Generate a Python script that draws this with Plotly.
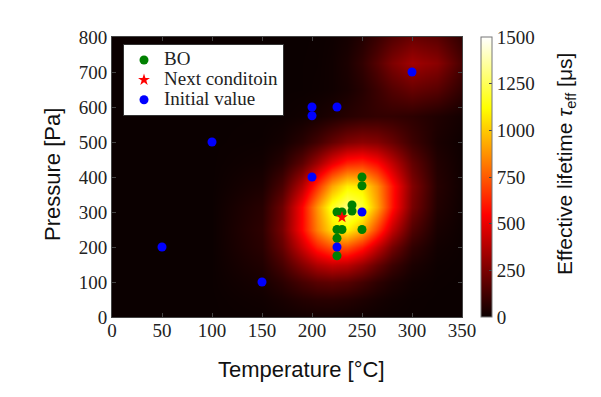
import plotly.graph_objects as go

# ---- surface (predicted lifetime), coarse grid ----
grid_temp = [0, 50, 100, 150, 170, 190, 205, 220, 235, 250, 265, 280, 300, 325, 350]
grid_pres = [0, 50, 100, 150, 200, 250, 313, 375, 440, 500, 575, 650, 727, 800]
lifetime = [
    [0, 0, 0, 4, 10, 16, 19, 19, 15, 10, 6, 3, 1, 0, 0],
    [0, 0, 0, 12, 29, 52, 64, 66, 57, 41, 24, 12, 3, 0, 0],
    [0, 0, 1, 27, 70, 132, 172, 186, 168, 126, 78, 41, 13, 2, 0],
    [0, 0, 1, 47, 132, 267, 365, 414, 392, 309, 202, 110, 37, 6, 1],
    [0, 0, 1, 67, 199, 430, 616, 736, 731, 605, 417, 239, 85, 15, 2],
    [0, 0, 1, 76, 240, 553, 833, 1044, 1089, 947, 685, 411, 157, 30, 3],
    [0, 0, 1, 64, 220, 547, 879, 1171, 1300, 1200, 922, 590, 244, 51, 6],
    [0, 0, 0, 37, 141, 381, 649, 920, 1085, 1067, 871, 593, 267, 62, 9],
    [0, 0, 0, 15, 62, 181, 328, 494, 620, 646, 562, 406, 198, 51, 8],
    [0, 0, 0, 4, 20, 64, 122, 196, 261, 290, 270, 209, 112, 34, 6],
    [0, 0, 0, 1, 3, 11, 23, 41, 61, 78, 88, 88, 75, 46, 19],
    [0, 0, 0, 0, 0, 1, 5, 12, 28, 59, 106, 159, 204, 169, 79],
    [0, 0, 0, 0, 0, 1, 3, 12, 36, 85, 163, 255, 336, 283, 134],
    [0, 0, 0, 0, 0, 0, 2, 8, 22, 53, 102, 159, 210, 176, 84],
]

# ---- sampled points ----
bo_temp = [250, 250, 240, 240, 225, 230, 225, 230, 250, 225, 225]
bo_pres = [400, 375, 320, 303, 300, 300, 250, 250, 250, 225, 175]

next_temp = [230]
next_pres = [285]

init_temp = [50, 100, 150, 200, 200, 225, 200, 250, 225, 300]
init_pres = [200, 500, 100, 600, 575, 600, 400, 300, 200, 700]

x_ticks = [0, 50, 100, 150, 200, 250, 300, 350]
y_ticks = [0, 100, 200, 300, 400, 500, 600, 700, 800]
cb_ticks = [0, 250, 500, 750, 1000, 1250, 1500]

hot = [
    [0.0, "rgb(11,0,0)"],
    [0.365, "rgb(255,0,0)"],
    [0.746, "rgb(255,255,0)"],
    [1.0, "rgb(255,255,255)"],
]

serif = "Liberation Serif, Times New Roman, serif"
sans = "Liberation Sans, Arial, sans-serif"


def leg(name):
    return '<span style="font-size:19px">' + name + '</span>'


fig = go.Figure()
fig.add_trace(go.Heatmap(
    x=grid_temp, y=grid_pres, z=lifetime,
    zmin=0, zmax=1500, zsmooth="best",
    colorscale=hot, showscale=True, showlegend=False,
    colorbar=dict(
        x=(481 - 112) / 350, xanchor="left", xpad=0,
        y=0.5, yanchor="middle", len=1, lenmode="fraction", ypad=0,
        thickness=11, outlinewidth=1, outlinecolor="#777",
        tickvals=cb_ticks, ticks="inside", ticklen=3, tickcolor="#444",
        tickfont=dict(family=serif, size=19, color="#222"),
    ),
))
fig.add_trace(go.Scatter(
    x=bo_temp, y=bo_pres, mode="markers", name=leg("BO"),
    marker=dict(color="#008000", size=9, symbol="circle"),
))
fig.add_trace(go.Scatter(
    x=next_temp, y=next_pres, mode="markers", name=leg("Next conditoin"),
    marker=dict(color="#ff0000", size=9, symbol="star"),
))
fig.add_trace(go.Scatter(
    x=init_temp, y=init_pres, mode="markers", name=leg("Initial value"),
    marker=dict(color="#0000ff", size=9, symbol="circle"),
))

axis_common = dict(
    showline=True, linecolor="#444", linewidth=1, mirror="allticks",
    ticks="inside", ticklen=4, tickcolor="#444",
    tickfont=dict(family=serif, size=19, color="#222"),
    showgrid=False, zeroline=False,
)
fig.update_xaxes(range=[0, 350], tickvals=x_ticks, ticklabelstandoff=-4,
                 **axis_common)
fig.update_yaxes(range=[0, 800], tickvals=y_ticks, **axis_common)

# the page body adds an 8px offset, so the figure is 593x389 with margins shifted
fig.update_layout(
    width=593, height=389,
    margin=dict(l=104, r=139, t=29, b=80, autoexpand=False),
    paper_bgcolor="white", plot_bgcolor="black",
    legend=dict(
        x=(123 - 112) / 350, y=(317 - 44) / 280, xanchor="left", yanchor="top",
        bgcolor="white", bordercolor="#333", borderwidth=1,
        font=dict(family=serif, size=13, color="#222"),
        itemwidth=30, tracegroupgap=0,
    ),
    annotations=[
        dict(text="Temperature [°C]", xref="paper", yref="paper",
             x=(301 - 112) / 350, y=(317 - 369) / 280,
             xanchor="center", yanchor="middle", showarrow=False,
             font=dict(family=sans, size=22, color="#111")),
        dict(text="Pressure [Pa]", xref="paper", yref="paper",
             x=(52 - 112) / 350, y=(317 - 175) / 280, textangle=-90,
             xanchor="center", yanchor="middle", showarrow=False,
             font=dict(family=sans, size=22, color="#111")),
        dict(text="Effective lifetime <i>τ</i><sub>eff</sub> [μs]",
             xref="paper", yref="paper",
             x=(566 - 112) / 350, y=(317 - 164) / 280, textangle=-90,
             xanchor="center", yanchor="middle", showarrow=False,
             font=dict(family=sans, size=21, color="#111")),
    ],
)

fig.write_html("out.html")
